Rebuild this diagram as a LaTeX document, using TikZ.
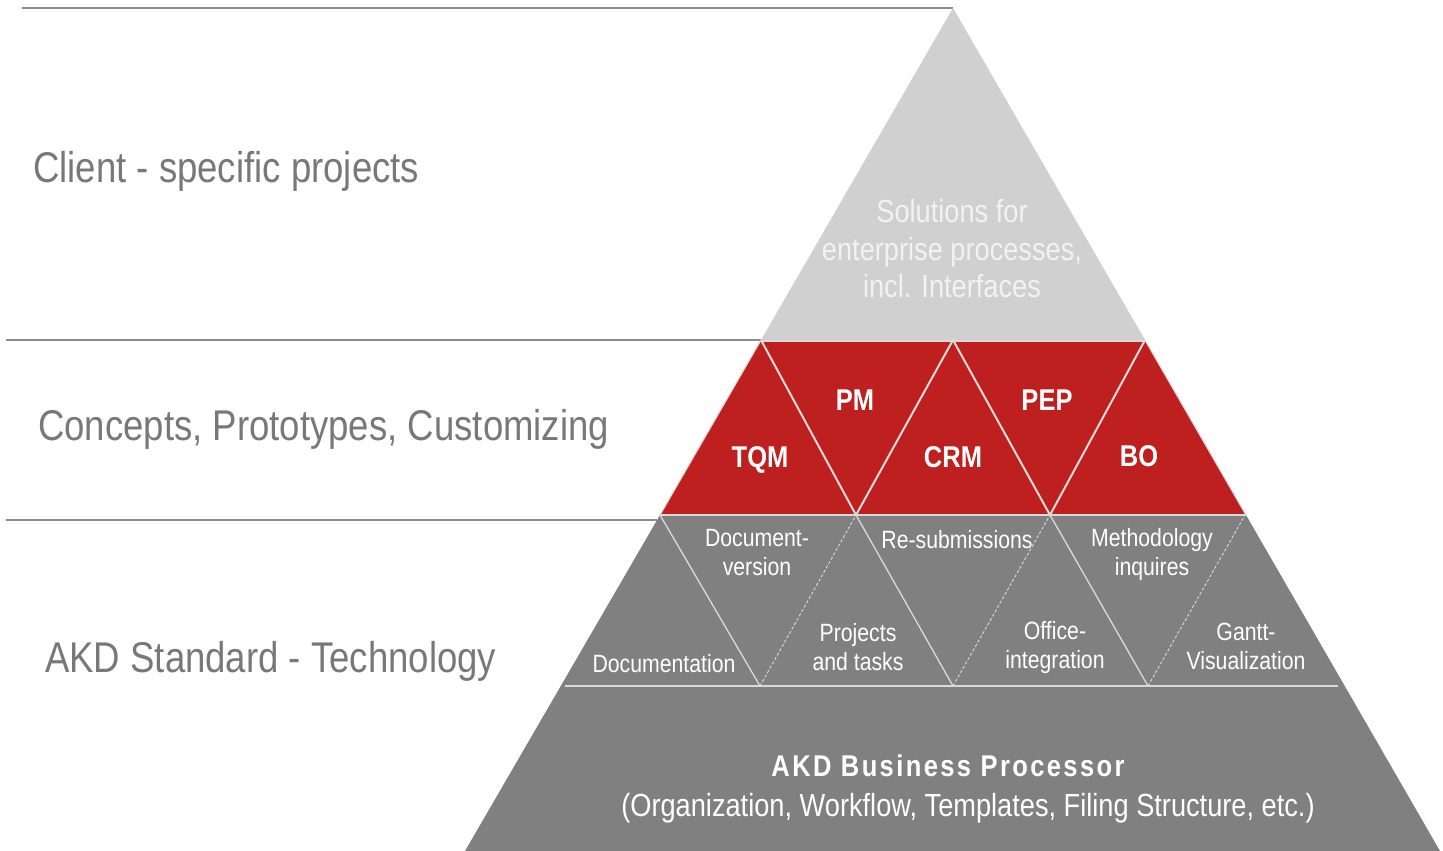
\documentclass[tikz,border=0pt]{standalone}
\usepackage{fontspec}
\setmainfont{Liberation Sans}[FakeStretch=0.85]
\definecolor{lblgray}{HTML}{787878}
\definecolor{rulegray}{HTML}{8C8C8C}
\definecolor{topgray}{HTML}{D0D0D0}
\definecolor{akdred}{HTML}{BE2020}
\definecolor{midgray}{HTML}{808080}
\definecolor{sepgray}{HTML}{DADADA}
\definecolor{toptext}{HTML}{F2F2F2}
\begin{document}
\begin{tikzpicture}[x=1pt,y=-1pt,
  leftlbl/.style={anchor=base west,inner sep=0pt,text=lblgray,font=\fontsize{43}{50}\selectfont},
  redlbl/.style={text=white,inner sep=0pt,anchor=base,font=\fontsize{30}{34}\selectfont\bfseries},
  graylbl/.style={text=white,inner sep=0pt,align=center,font=\fontsize{25}{29}\selectfont},
  ruleline/.style={draw=rulegray,line width=1.5pt},
  sepline/.style={draw=sepgray,line width=2pt},
  sepdash/.style={draw=sepgray,line width=0.9pt,dash pattern=on 3pt off 2pt}]
\useasboundingbox (0,0) rectangle (1443,851);
% left rules
\draw[ruleline] (22,8) -- (953,8);
\draw[ruleline] (6,340) -- (761,340);
\draw[ruleline] (6,520) -- (657,520);
% top triangle
\fill[topgray] (953,8) -- (1145,340) -- (761,340) -- cycle;
% red band
\fill[akdred] (761,340) -- (1145,340) -- (1246,515) -- (660,515) -- cycle;
% gray band + base
\fill[midgray] (660,515) -- (1246,515) -- (1440,851) -- (465,851) -- cycle;
% separators
\draw[sepline] (761,341) -- (1145,341);
\draw[sepline] (660,515) -- (1246,515);
\draw[draw=sepgray,line width=1.2pt] (761,340) -- (660,515);
\draw[draw=sepgray,line width=1.2pt] (1145,340) -- (1246,515);
\draw[sepline] (761,340) -- (856,515) -- (953,340) -- (1050,515) -- (1145,340);
\draw[sepline] (565,686) -- (1338,686);
\draw[draw=sepgray,line width=1.3pt] (660,515) -- (760,686);
\draw[draw=sepgray,line width=1.3pt] (856,515) -- (953,686);
\draw[draw=sepgray,line width=1.3pt] (1050,515) -- (1148,686);
\draw[sepdash] (760,686) -- (856,515);
\draw[sepdash] (953,686) -- (1050,515);
\draw[sepdash] (1148,686) -- (1245,515);
% left labels
\node[leftlbl] (client) at (33,182) {Client - specific projects};
\node[leftlbl] (concepts) at (38,440) {Concepts, Prototypes, Customizing};
\node[leftlbl] (standard) at (45,672) {AKD Standard - Technology};
% top text
\node[text=toptext,inner sep=0pt,align=center,font=\fontsize{32}{37.5}\selectfont] (solutions) at (952,249) {Solutions for\\enterprise processes,\\incl. Interfaces};
% red labels
\node[redlbl] (tqm) at (760,467) {TQM};
\node[redlbl] (pm) at (855,410) {PM};
\node[redlbl] (crm) at (953,467) {CRM};
\node[redlbl] (pep) at (1047,410) {PEP};
\node[redlbl] (bo) at (1139,466) {BO};
% gray labels
\node[graylbl] (docver) at (757,553) {Document-\\version};
\node[graylbl] (resub) at (957,540) {Re-submissions};
\node[graylbl] (method) at (1152,555) {Methodology\\inquires};
\node[graylbl] (docu) at (664,664) {Documentation};
\node[graylbl] (projects) at (858,647) {Projects\\and tasks};
\node[graylbl] (office) at (1055,648) {Office-\\integration};
\node[graylbl] (gantt) at (1246,646) {Gantt-\\Visualization};
% base
\node[text=white,inner sep=0pt,font=\fontsize{30}{34}\selectfont\bfseries\addfontfeature{LetterSpace=8}] (akdbp) at (948,766) {AKD Business Processor};
\node[text=white,inner sep=0pt,font=\fontsize{32}{36}\selectfont] (org) at (968,808) {(Organization, Workflow, Templates, Filing Structure, etc.)};
\end{tikzpicture}
\end{document}
